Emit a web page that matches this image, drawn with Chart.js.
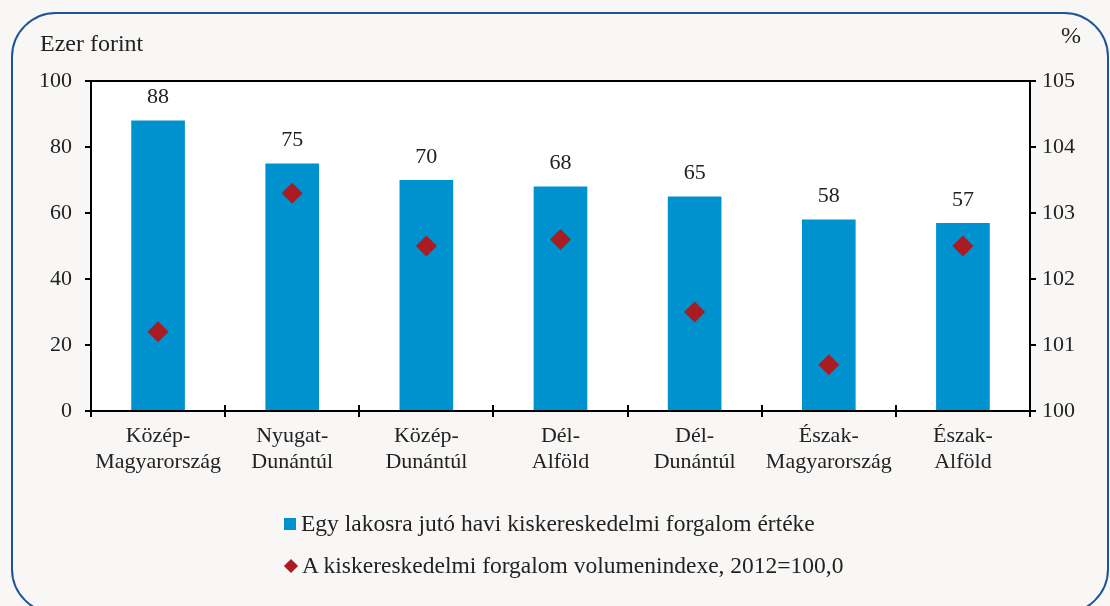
<!DOCTYPE html>
<html>
<head>
<meta charset="utf-8">
<script src="https://cdn.jsdelivr.net/npm/chart.js@4.4.1/dist/chart.umd.min.js"></script>
<style>
  html, body { margin: 0; padding: 0; background: #f8f7f6; }
  #wrap { position: relative; width: 1110px; height: 606px; overflow: hidden; }
  #frame {
    position: absolute; left: 11px; top: 12px; width: 1094px; height: 598px;
    border: 2px solid #1b5797; border-radius: 45px;
  }
  canvas { position: absolute; left: 0; top: 0; }
  .legend { position: absolute; left: 284px; font-family: "Liberation Serif", serif; font-size: 23.5px; color: #222; line-height: 28px; }
  .legend span.mk { display: inline-block; vertical-align: middle; margin-right: 5px; }
</style>
</head>
<body>
<div id="wrap">
  <div id="frame"></div>
  <canvas id="chart" width="1110" height="606"></canvas>
  <div class="legend" style="top: 509px;"><span class="mk" style="width:12px;height:12px;background:#0091cf;position:relative;top:-2px;"></span>Egy lakosra jutó havi kiskereskedelmi forgalom értéke</div>
  <div class="legend" style="top: 551px;"><span class="mk" style="width:10px;height:10px;background:#a81c22;transform:rotate(45deg);position:relative;top:-2px;margin-left:2px;margin-right:6px;"></span>A kiskereskedelmi forgalom volumenindexe, 2012=100,0</div>
</div>
<script>
const regions = [
  ["Közép-", "Magyarország"],
  ["Nyugat-", "Dunántúl"],
  ["Közép-", "Dunántúl"],
  ["Dél-", "Alföld"],
  ["Dél-", "Dunántúl"],
  ["Észak-", "Magyarország"],
  ["Észak-", "Alföld"]
];
const perCapita = [88, 75, 70, 68, 65, 58, 57];
const volumeIndex = [101.2, 103.3, 102.5, 102.6, 101.5, 100.7, 102.5];

const leftTicks = [0, 20, 40, 60, 80, 100];
const rightTicks = [100, 101, 102, 103, 104, 105];

const serif = "'Liberation Serif', serif";
const textColor = "#222";

// white plot box, outline, inner ticks, bar labels, axis units
const decor = {
  id: "decor",
  beforeDraw(chart) {
    const { ctx, chartArea: a } = chart;
    ctx.save();
    ctx.fillStyle = "#fff";
    ctx.fillRect(a.left, a.top, a.right - a.left, a.bottom - a.top);
    ctx.restore();
  },
  afterDraw(chart) {
    const { ctx, chartArea: a } = chart;
    ctx.save();
    ctx.strokeStyle = "#000";
    ctx.lineWidth = 2;
    ctx.strokeRect(a.left, a.top, a.right - a.left, a.bottom - a.top);
    // ticks crossing the category axis
    const n = regions.length;
    const step = (a.right - a.left) / n;
    ctx.beginPath();
    for (let i = 0; i <= n; i++) {
      const x = Math.round(a.left + i * step);
      ctx.moveTo(x, a.bottom - 6);
      ctx.lineTo(x, a.bottom + 6);
    }
    ctx.stroke();
    // value labels over bars
    ctx.fillStyle = textColor;
    ctx.font = "22px " + serif;
    ctx.textAlign = "center";
    ctx.textBaseline = "bottom";
    chart.getDatasetMeta(1).data.forEach((bar, i) => {
      ctx.fillText(perCapita[i], bar.x, bar.y - 12);
    });
    // axis units
    ctx.font = "24px " + serif;
    ctx.textAlign = "left";
    ctx.textBaseline = "middle";
    ctx.fillText("Ezer forint", 40, 45);
    ctx.fillText("%", 1061, 37);
    ctx.restore();
  }
};

new Chart(document.getElementById("chart"), {
  data: {
    labels: regions,
    datasets: [
      {
        type: "line",
        label: "A kiskereskedelmi forgalom volumenindexe, 2012=100,0",
        data: volumeIndex,
        yAxisID: "y1",
        showLine: false,
        pointStyle: "rectRot",
        pointRadius: 10.5,
        pointBackgroundColor: "#a81c22",
        pointBorderColor: "#a81c22",
        pointBorderWidth: 0,
        order: 0
      },
      {
        type: "bar",
        label: "Egy lakosra jutó havi kiskereskedelmi forgalom értéke",
        data: perCapita,
        yAxisID: "y",
        backgroundColor: "#0091cf",
        categoryPercentage: 1,
        barPercentage: 0.4,
        order: 1
      }
    ]
  },
  options: {
    responsive: false,
    animation: false,
    layout: { padding: { top: 81, left: 0, right: 0, bottom: 0 } },
    plugins: { legend: { display: false }, tooltip: { enabled: false } },
    scales: {
      x: {
        grid: { drawOnChartArea: false, tickLength: 6, color: "#000", lineWidth: 2 },
        border: { color: "#000", width: 2 },
        ticks: { color: textColor, font: { family: serif, size: 22, lineHeight: 1.2 }, padding: 6, maxRotation: 0 },
        afterFit(s) { s.height = 195; }
      },
      y: {
        position: "left",
        min: leftTicks[0],
        max: leftTicks[leftTicks.length - 1],
        afterBuildTicks(s) { s.ticks = leftTicks.map(v => ({ value: v })); },
        grid: { drawOnChartArea: false, tickLength: 6, color: "#000", lineWidth: 2 },
        border: { color: "#000", width: 2 },
        ticks: { color: textColor, font: { family: serif, size: 22 }, padding: 13 },
        afterFit(s) { s.width = 91; }
      },
      y1: {
        position: "right",
        min: rightTicks[0],
        max: rightTicks[rightTicks.length - 1],
        afterBuildTicks(s) { s.ticks = rightTicks.map(v => ({ value: v })); },
        grid: { drawOnChartArea: false, tickLength: 6, color: "#000", lineWidth: 2 },
        border: { color: "#000", width: 2 },
        ticks: { color: textColor, font: { family: serif, size: 22 }, padding: 6 },
        afterFit(s) { s.width = 80; }
      }
    }
  },
  plugins: [decor]
});
</script>
</body>
</html>
